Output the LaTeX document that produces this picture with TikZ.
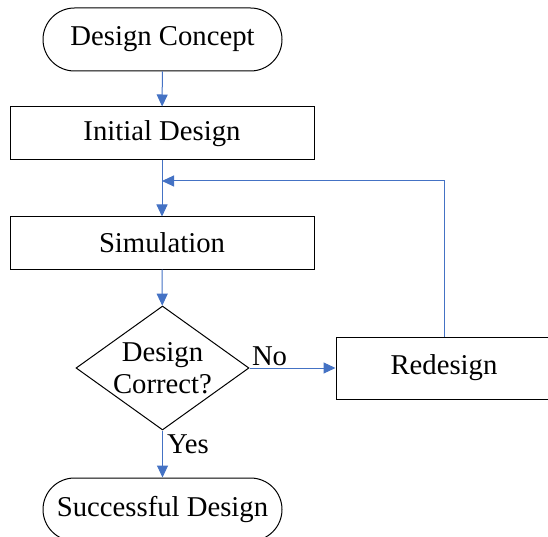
\documentclass[tikz,border=0pt]{standalone}
\usepackage{fontspec}
\setmainfont{Liberation Serif}
\usepackage{tikz}
\usetikzlibrary{positioning,arrows.meta,shapes.geometric}
\usepackage{xcolor}
\definecolor{flowblue}{HTML}{4472C4}

\begin{document}
\begin{tikzpicture}[
    x=1pt, y=-1pt,
    every node/.style={font=\fontsize{28.7}{32}\selectfont},
    terminal/.style={draw, rectangle, rounded corners=31.5pt, minimum width=239pt, minimum height=63pt, line width=1pt, inner sep=0pt},
    process/.style={draw, rectangle, minimum width=304pt, minimum height=53pt, line width=1pt, inner sep=0pt},
    decision/.style={draw, diamond, aspect=1.4, minimum width=173pt, minimum height=124pt, align=center, line width=1pt, inner sep=0pt},
    arrow/.style={-{Triangle[length=12pt,width=11pt]}, draw=flowblue, line width=1pt},
    lbl/.style={inner sep=2pt},
]
\useasboundingbox (0,0) rectangle (548,537);

\node[terminal] (concept) at (162.5,39.5) {Design Concept};
\node[process] (init) at (162,133.5) {Initial Design};
\node[process, minimum height=52pt] (sim) at (162,243) {Simulation};
\node[decision] (check) at (162.5,368) {Design\\Correct?};
\node[process, minimum width=216pt, minimum height=62pt] (redesign) at (444,368) {Redesign};
\node[terminal] (success) at (162.5,509.5) {Successful Design};
\coordinate (join) at (162,181);

\draw[arrow] (concept) -- (init);
\draw[arrow] (init) -- (sim);
\draw[arrow] (sim) -- (check);
\draw[arrow] (check) -- node[lbl, pos=0, anchor=south west] {No} (redesign);
\draw[arrow] (check) -- node[lbl, pos=0.3, right, xshift=2pt] {Yes} (success);
\draw[arrow] (redesign.north) |- (join);

\end{tikzpicture}
\end{document}
